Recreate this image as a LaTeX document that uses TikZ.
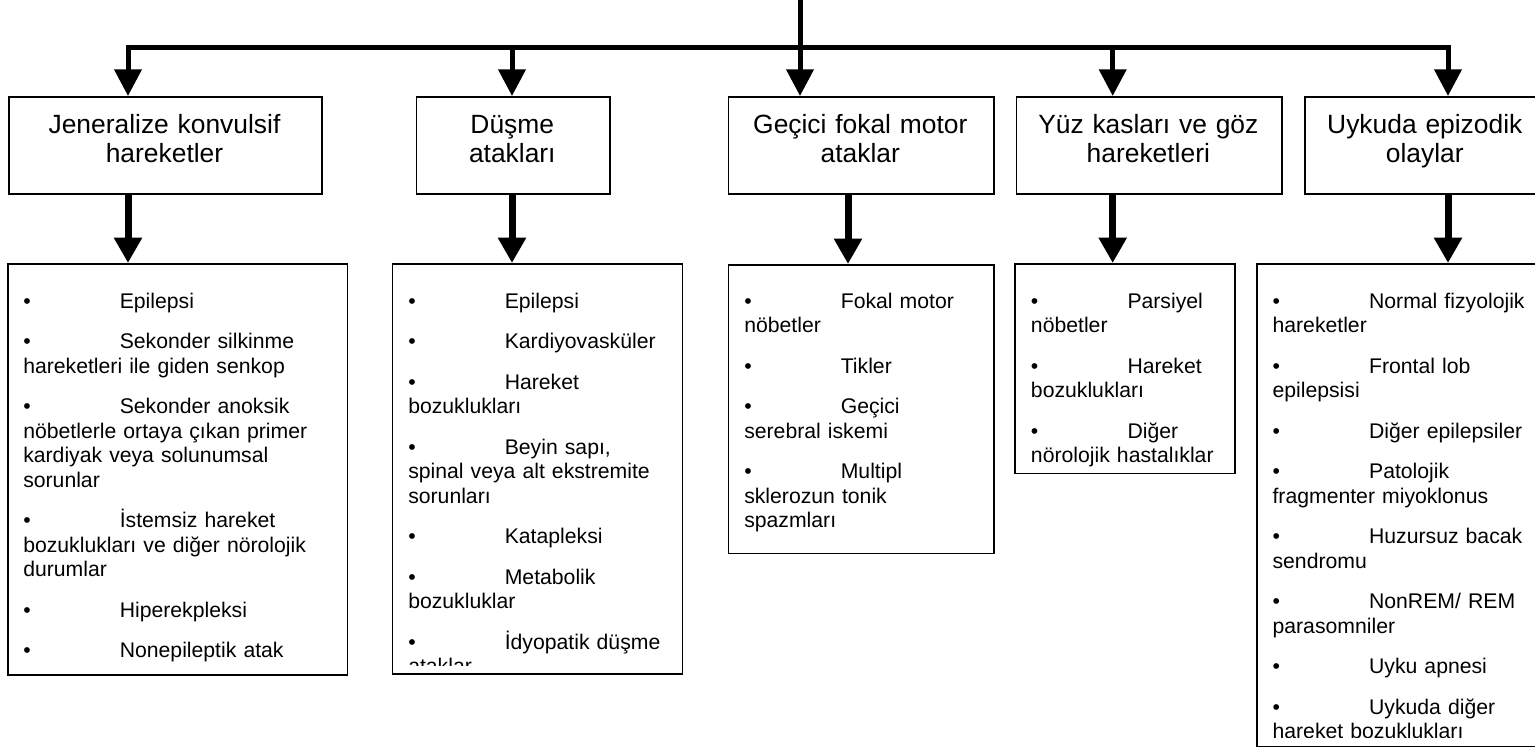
\documentclass[tikz,border=0pt]{standalone}
\usepackage{fontspec}
\setmainfont{Liberation Sans}
\usetikzlibrary{arrows.meta,calc}
% bullet followed by a tab stop
\newcommand\bline[1]{\makebox[72.4pt][l]{•}#1}
\newcommand\pgap{\\[12pt]}

\begin{document}
\begin{tikzpicture}[x=0.75pt,y=-0.75pt,
  box/.style={draw, line width=1.3pt, inner sep=0pt, anchor=north west},
  headbox/.style={box, minimum height=72.75pt},
  headtext/.style={inner sep=0pt, anchor=base, align=center, text width=230pt,
    font=\fontsize{19.8pt}{21.75pt}\selectfont},
  listtext/.style={inner sep=0pt, anchor=base west, align=left, text width=300pt,
    font=\fontsize{15.9pt}{18.375pt}\selectfont},
  busline/.style={line width=3.75pt, line cap=rect},
  downarrow/.style={line width=3.75pt, -{Triangle[width=20pt,length=20pt]}},
  listarrow/.style={line width=5.25pt, -{Triangle[width=20pt,length=19pt]}},
]
\useasboundingbox (0,0) rectangle (1535,751);
\fill[white] (0,0) rectangle (1535,751);
\clip (0,0) rectangle (1535,751);

% category boxes
\node[headbox, minimum width=234.75pt] (h1) at (8,96) {};
\node[headbox, minimum width=145pt]    (h2) at (415.7,96) {};
\node[headbox, minimum width=199pt]    (h3) at (727.7,96) {};
\node[headbox, minimum width=199pt]    (h4) at (1015.7,96) {};
\node[headbox, minimum width=181.5pt]  (h5) at (1304,96) {};

\node[headtext] (ht1) at (164.5,133) {Jeneralize konvulsif\\hareketler};
\node[headtext] (ht2) at (512.3,133) {Düşme\\atakları};
\node[headtext] (ht3) at (860.3,133) {Geçici fokal motor\\ataklar};
\node[headtext] (ht4) at (1148.3,133) {Yüz kasları ve göz\\hareketleri};
\node[headtext] (ht5) at (1424.8,133) {Uykuda epizodik\\olaylar};

% list boxes
\node[box, minimum width=254.8pt, minimum height=308.25pt] (l1) at (7,263) {};
\node[box, minimum width=217.5pt, minimum height=307.5pt]  (l2) at (391.7,263) {};
\node[box, minimum width=199pt,   minimum height=216.5pt]  (l3) at (727.7,264) {};
\node[box, minimum width=165pt,   minimum height=157.3pt]  (l4) at (1014,263) {};
\node[box, minimum width=220.5pt, minimum height=362pt]    (l5) at (1256,263) {};

% list contents
\node[listtext] (t1) at (23,308.3) {\bline{Epilepsi}\pgap
\bline{Sekonder silkinme}\\hareketleri ile giden senkop\pgap
\bline{Sekonder anoksik}\\nöbetlerle ortaya çıkan primer\\kardiyak veya solunumsal\\sorunlar\pgap
\bline{İstemsiz hareket}\\bozuklukları ve diğer nörolojik\\durumlar\pgap
\bline{Hiperekpleksi}\pgap
\bline{Nonepileptik atak}};

% the two longest lists run past the inner margin of their boxes and are cut there
\begin{scope}
\clip (l2.north west) rectangle ($(l2.south east)+(0,-9)$);
\node[listtext] (t2) at (408,308.3) {\bline{Epilepsi}\pgap
\bline{Kardiyovasküler}\pgap
\bline{Hareket}\\bozuklukları\pgap
\bline{Beyin sapı,}\\spinal veya alt ekstremite\\sorunları\pgap
\bline{Katapleksi}\pgap
\bline{Metabolik}\\bozukluklar\pgap
\bline{İdyopatik düşme}\\ataklar};
\end{scope}

\node[listtext] (t3) at (744,308.3) {\bline{Fokal motor}\\nöbetler\pgap
\bline{Tikler}\pgap
\bline{Geçici}\\serebral iskemi\pgap
\bline{Multipl}\\sklerozun tonik\\spazmları};

\node[listtext] (t4) at (1030.7,308.3) {\bline{Parsiyel}\\nöbetler\pgap
\bline{Hareket}\\bozuklukları\pgap
\bline{Diğer}\\nörolojik hastalıklar};

\begin{scope}
\clip (l5.north west) rectangle ($(l5.south east)+(0,-10)$);
\node[listtext] (t5) at (1272.3,308.3) {\bline{Normal fizyolojik}\\hareketler\pgap
\bline{Frontal lob}\\epilepsisi\pgap
\bline{Diğer epilepsiler}\pgap
\bline{Patolojik}\\fragmenter miyoklonus\pgap
\bline{Huzursuz bacak}\\sendromu\pgap
\bline{NonREM/ REM}\\parasomniler\pgap
\bline{Uyku apnesi}\pgap
\bline{Uykuda diğer}\\hareket bozuklukları};
\end{scope}

% distribution bus
\coordinate (top) at (800,0);
\coordinate (b1) at (128,47.5);
\coordinate (b2) at (512,47.5);
\coordinate (b3) at (800,47.5);
\coordinate (b4) at (1112.7,47.5);
\coordinate (b5) at (1448,47.5);
\draw[busline] (top) -- (b3);
\draw[busline] (b1) -- (b5);
\foreach \i in {1,...,5}
  \draw[downarrow] (b\i) -- (b\i |- h\i.north);

% arrows from categories to their lists
\coordinate (d1) at (128,193);
\coordinate (d2) at (512,193);
\coordinate (d3) at (848,193);
\coordinate (d4) at (1112.7,193);
\coordinate (d5) at (1448,193);
\foreach \i in {1,...,5}
  \draw[listarrow] (d\i) -- (d\i |- l\i.north);
\end{tikzpicture}
\end{document}
